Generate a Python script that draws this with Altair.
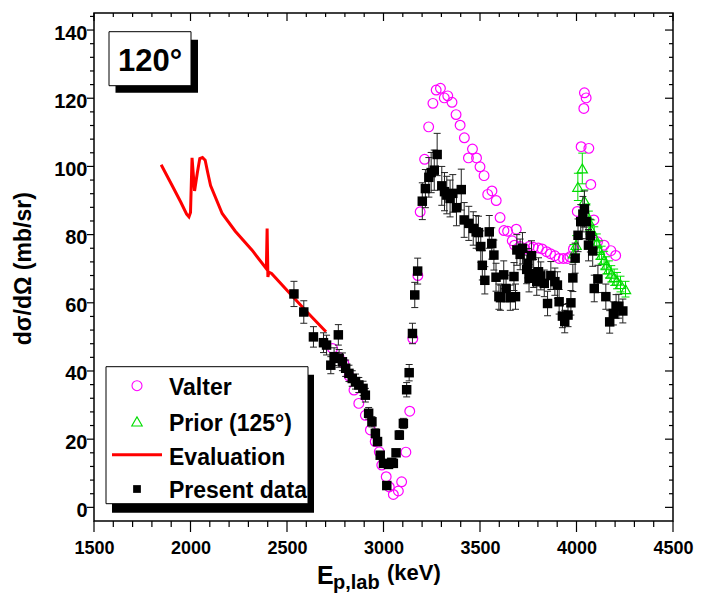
import altair as alt
import pandas as pd

# ---------------- data ----------------
eval_e = [1848, 1900, 1950, 1980, 1992, 2000, 2008, 2021, 2035, 2048, 2062, 2076, 2090,
          2104, 2164, 2232, 2318, 2393, 2397, 2401, 2406, 2420, 2514, 2600, 2702]
eval_v = [100.5, 94.9, 89.5, 86.0, 85.2, 86.5, 102.5, 92.8, 98.0, 102.3, 102.6, 101.8, 98.0,
          94.4, 86.2, 81.0, 75.5, 70.0, 81.8, 67.6, 69.0, 68.6, 62.8, 57.5, 51.5]

valter_e = [2736, 2770, 2795, 2822, 2847, 2872, 2906, 2932, 2957, 2978, 2991, 3014, 3030, 3051,
            3077, 3094, 3116, 3136, 3152, 3178, 3190, 3213, 3234, 3256, 3273, 3295, 3315, 3333,
            3355, 3376, 3397, 3419, 3440, 3461, 3482, 3500, 3521, 3540, 3562, 3584, 3604, 3624,
            3643, 3667, 3679, 3688, 3708, 3733, 3754, 3776, 3802, 3822, 3845, 3865, 3888, 3910,
            3932, 3953, 3966, 3984, 4004, 4024, 4038, 4041, 4050, 4064, 4074, 4090, 4109, 4143,
            4178, 4203]
valter_v = [46.6, 44.0, 42.2, 38.5, 34.4, 30.5, 27.0, 22.7, 19.3, 16.3, 12.4, 9.0, 6.0, 3.8,
            4.8, 7.5, 16.2, 28.2, 49.5, 68.0, 86.7, 102.1, 111.6, 118.5, 122.4, 122.9, 120.1, 120.7,
            118.8, 115.2, 112.1, 108.4, 102.5, 105.1, 102.5, 99.9, 97.3, 91.8, 92.8, 90.0, 85.0, 81.2,
            81.0, 78.2, 76.9, 81.6, 76.5, 75.8, 76.5, 76.3, 76.1, 75.8, 75.0, 74.4, 73.8, 73.0,
            73.0, 73.0, 73.5, 75.8, 86.8, 105.8, 117.0, 121.6, 120.1, 105.3, 94.7, 84.3, 77.9, 76.9,
            75.3, 73.9]

prior_e = [3985, 3998, 4007, 4030, 4041, 4052, 4064, 4076, 4092, 4105, 4118, 4130, 4143, 4155,
           4168, 4180, 4195, 4210, 4228, 4254]
prior_v = [74.5, 77.0, 94.0, 99.4, 90.0, 86.0, 84.0, 81.5, 79.5, 77.5, 75.5, 74.0, 72.5, 71.0,
           69.8, 68.5, 67.5, 66.5, 65.5, 64.0]
prior_err = [2.6, 2.7, 4.0, 4.5, 3.1, 3.0, 2.9, 2.8, 2.8, 2.7, 2.7, 2.6, 2.6, 2.5,
             2.5, 2.4, 2.4, 2.4, 2.3, 2.3]

present_e = [2536, 2587, 2637, 2689, 2705, 2727, 2744, 2766, 2770, 2787, 2804, 2821, 2838, 2855,
             2872, 2894, 2906, 2923, 2940, 2958, 2969, 2983, 3000, 3017, 3026, 3043, 3051, 3065,
             3082, 3103, 3120, 3133, 3150, 3162, 3177, 3201, 3217, 3235, 3247, 3263, 3278, 3302,
             3316, 3328, 3345, 3359, 3378, 3403, 3418, 3442, 3465, 3480, 3492, 3504, 3512, 3525,
             3548, 3561, 3572, 3583, 3598, 3606, 3623, 3635, 3657, 3676, 3684, 3691, 3708, 3720,
             3742, 3748, 3754, 3767, 3778, 3794, 3803, 3815, 3833, 3850, 3867, 3888, 3901, 3910,
             3927, 3939, 3956, 3971, 3981, 3993, 4008, 4022, 4033, 4041, 4050, 4062, 4072, 4084,
             4092, 4111, 4152, 4172, 4191, 4205, 4219, 4240]
present_v = [62.6, 57.3, 50.0, 48.3, 47.6, 41.7, 44.2, 50.6, 43.7, 42.7, 40.8, 39.3, 37.8, 36.9,
             35.9, 34.9, 32.9, 27.6, 25.1, 21.7, 19.3, 15.3, 12.9, 6.4, 12.6, 13.2, 12.9, 16.0,
             21.2, 24.6, 34.5, 39.5, 51.0, 62.3, 69.3, 89.8, 93.5, 96.8, 98.2, 98.9, 103.5, 94.3,
             92.6, 91.6, 90.6, 92.1, 87.9, 93.2, 84.3, 83.3, 81.8, 80.8, 80.6, 76.5, 71.0, 66.6,
             80.8, 77.4, 74.0, 67.5, 61.8, 61.5, 68.2, 64.2, 61.5, 67.7, 61.8, 75.5, 74.2, 76.0,
             69.8, 71.6, 67.2, 73.8, 68.6, 66.2, 69.1, 67.9, 65.7, 59.8, 68.0, 66.2, 65.2, 60.3,
             56.1, 54.5, 56.4, 60.0, 67.3, 73.1, 79.8, 83.8, 86.0, 87.5, 83.8, 76.9, 79.7, 75.2,
             64.2, 67.0, 61.8, 54.4, 56.9, 58.9, 59.0, 57.6]
present_err = [3.7, 3.3, 3.0, 2.9, 2.9, 2.5, 2.6, 3.0, 2.6, 2.6, 2.4, 2.4, 2.3, 2.2,
               2.2, 2.1, 2.0, 1.7, 1.5, 1.3, 1.2, 1.0, 0.8, 0.6, 0.8, 0.8, 0.8, 1.0,
               1.3, 1.5, 2.1, 2.4, 3.0, 3.7, 3.8, 5.4, 5.6, 5.8, 5.9, 5.9, 6.2, 5.7,
               5.6, 5.5, 5.4, 5.5, 5.3, 6.0, 5.1, 5.0, 4.9, 4.8, 4.8, 4.6, 4.3, 4.0,
               4.8, 4.6, 4.4, 4.1, 3.7, 3.7, 4.1, 3.9, 3.7, 4.1, 3.7, 4.5, 4.5, 4.6,
               4.2, 4.3, 4.0, 4.4, 4.1, 4.0, 4.1, 4.1, 3.9, 3.6, 4.1, 4.0, 3.9, 3.6,
               3.4, 3.3, 3.4, 3.6, 4.0, 4.4, 4.8, 5.0, 5.2, 5.3, 5.0, 4.6, 4.8, 4.5,
               3.9, 4.0, 3.7, 3.3, 3.4, 3.5, 3.5, 3.5]

x_major = [1500, 2000, 2500, 3000, 3500, 4000, 4500]
x_minor = [1600, 1700, 1800, 1900, 2100, 2200, 2300, 2400, 2600, 2700, 2800, 2900,
           3100, 3200, 3300, 3400, 3600, 3700, 3800, 3900, 4100, 4200, 4300, 4400]
y_major = [0, 20, 40, 60, 80, 100, 120, 140]
y_minor = [4, 8, 12, 16, 24, 28, 32, 36, 44, 48, 52, 56, 64, 68, 72, 76, 84, 88, 92, 96,
           104, 108, 112, 116, 124, 128, 132, 136, 144]

# ---------------- chart ----------------
W, H = 579, 508
FONT = "Liberation Sans"
MAG = "#FF00FF"
GRN = "#00DD00"

xs = alt.Scale(domain=[1500, 4500], nice=False, zero=False)
ys = alt.Scale(domain=[-4, 145], nice=False, zero=False)
x_axis = alt.Axis(values=x_major, ticks=False, tickSize=0, domain=False, grid=False,
                  labelFont=FONT, labelFontSize=18, labelFontWeight="bold", labelColor="black",
                  labelPadding=18, labelFlush=False, labelOverlap=False, title=None, format="d")
y_axis = alt.Axis(values=y_major, ticks=False, tickSize=0, domain=False, grid=False,
                  labelFont=FONT, labelFontSize=20, labelFontWeight="bold", labelColor="black",
                  labelPadding=7, labelOffset=3, labelFlush=False, labelOverlap=False,
                  title=None, format="d")


def X(f):
    return alt.X(f"{f}:Q", scale=xs, axis=x_axis)


def Y(f):
    return alt.Y(f"{f}:Q", scale=ys, axis=y_axis)


one = pd.DataFrame({"a": [0]})
df_eval = pd.DataFrame({"E": eval_e, "v": eval_v})
df_val = pd.DataFrame({"E": valter_e, "v": valter_v})
df_pri = pd.DataFrame({"E": prior_e, "v": prior_v, "err": prior_err})
df_pre = pd.DataFrame({"E": present_e, "v": present_v, "err": present_err})
df_xM = pd.DataFrame({"t": x_major})
df_xm = pd.DataFrame({"t": x_minor})
df_yM = pd.DataFrame({"t": y_major})
df_ym = pd.DataFrame({"t": y_minor})

layers = []

# frame
layers.append(alt.Chart(one).mark_rect(fillOpacity=0, stroke="black", strokeWidth=1.5).encode(
    x=alt.value(0), x2=alt.value(W), y=alt.value(0), y2=alt.value(H)))


# ticks
def xticks(df, y0, y1):
    return alt.Chart(df).mark_rule(color="black", strokeWidth=1.2).encode(
        x=X("t"), y=alt.value(y0), y2=alt.value(y1))


def yticks(df, x0, x1):
    return alt.Chart(df).mark_rule(color="black", strokeWidth=1.2).encode(
        y=Y("t"), x=alt.value(x0), x2=alt.value(x1))


layers += [xticks(df_xM, H, H + 11), xticks(df_xm, H, H + 6),
           xticks(df_xM, 0, 8), xticks(df_xm, 0, 4),
           yticks(df_yM, -7, 0), yticks(df_ym, -4, 0),
           yticks(df_yM, W - 8, W), yticks(df_ym, W - 4, W)]

# evaluation line
layers.append(alt.Chart(df_eval).mark_line(color="#FF0000", strokeWidth=3).encode(
    x=X("E"), y=Y("v")))

# Valter
layers.append(alt.Chart(df_val).mark_point(shape="circle", filled=False, color=MAG,
                                           size=95, strokeWidth=1.2, opacity=1).encode(
    x=X("E"), y=Y("v")))

# Prior
pri = alt.Chart(df_pri).transform_calculate(lo="datum.v - datum.err", hi="datum.v + datum.err")
layers.append(pri.mark_rule(color=GRN, strokeWidth=1).encode(x=X("E"), y=Y("lo"), y2=alt.Y2("hi:Q")))
layers.append(pri.mark_tick(orient="horizontal", size=8, thickness=1, color=GRN, opacity=1).encode(
    x=X("E"), y=Y("lo")))
layers.append(pri.mark_tick(orient="horizontal", size=8, thickness=1, color=GRN, opacity=1).encode(
    x=X("E"), y=Y("hi")))
layers.append(pri.mark_point(shape="triangle-up", filled=False, color=GRN, size=105,
                             strokeWidth=1.2, opacity=1).encode(x=X("E"), y=Y("v")))

# Present data
pre = alt.Chart(df_pre).transform_calculate(lo="datum.v - datum.err", hi="datum.v + datum.err")
layers.append(pre.mark_rule(color="#222222", strokeWidth=1).encode(x=X("E"), y=Y("lo"), y2=alt.Y2("hi:Q")))
layers.append(pre.mark_tick(orient="horizontal", size=7, thickness=1, color="#222222", opacity=1).encode(
    x=X("E"), y=Y("lo")))
layers.append(pre.mark_tick(orient="horizontal", size=7, thickness=1, color="#222222", opacity=1).encode(
    x=X("E"), y=Y("hi")))
layers.append(pre.mark_square(size=90, color="black", opacity=1).encode(x=X("E"), y=Y("v")))

# "120°" box
layers.append(alt.Chart(one).mark_rect(fill="black").encode(
    x=alt.value(21.5), x2=alt.value(104), y=alt.value(26.7), y2=alt.value(79.7)))
layers.append(alt.Chart(one).mark_rect(fill="white", stroke="black", strokeWidth=1).encode(
    x=alt.value(15), x2=alt.value(97), y=alt.value(18.7), y2=alt.value(72.7)))
layers.append(alt.Chart(one).mark_text(font=FONT, fontWeight="bold", fontSize=31, align="center",
                                       baseline="alphabetic", color="black").encode(
    x=alt.value(56), y=alt.value(58.4), text=alt.value("120°")))

# legend box
layers.append(alt.Chart(one).mark_rect(fill="black").encode(
    x=alt.value(18), x2=alt.value(220), y=alt.value(361.7), y2=alt.value(499.7)))
layers.append(alt.Chart(one).mark_rect(fill="white", stroke="black", strokeWidth=1).encode(
    x=alt.value(12), x2=alt.value(214), y=alt.value(353.7), y2=alt.value(490.7)))
layers.append(alt.Chart(one).mark_point(shape="circle", filled=False, color=MAG, size=100,
                                        strokeWidth=1.1, opacity=1).encode(
    x=alt.value(43), y=alt.value(372.7)))
layers.append(alt.Chart(one).mark_point(shape="triangle-up", filled=False, color=GRN, size=110,
                                        strokeWidth=1.1, opacity=1).encode(
    x=alt.value(43), y=alt.value(408.4)))
layers.append(alt.Chart(one).mark_rule(color="#FF0000", strokeWidth=3).encode(
    x=alt.value(18), x2=alt.value(68), y=alt.value(441.7)))
layers.append(alt.Chart(one).mark_square(size=60, color="black", opacity=1).encode(
    x=alt.value(43), y=alt.value(476)))

leg_txt = [("Valter", 381.7), ("Prior (125°)", 417.7), ("Evaluation", 451.7), ("Present data", 485)]
for t, yy in leg_txt:
    layers.append(alt.Chart(one).mark_text(font=FONT, fontWeight="bold", fontSize=23, align="left",
                                           baseline="alphabetic", color="black").encode(
        x=alt.value(75), y=alt.value(yy), text=alt.value(t)))

# axis titles
layers.append(alt.Chart(one).mark_text(font=FONT, fontWeight="bold", fontSize=23, angle=270,
                                       align="center", baseline="alphabetic", color="black").encode(
    x=alt.value(-63), y=alt.value(255.7), text=alt.value("dσ/dΩ (mb/sr)")))
layers.append(alt.Chart(one).mark_text(font=FONT, fontWeight="bold", fontSize=25, align="left",
                                       baseline="alphabetic", color="black").encode(
    x=alt.value(223), y=alt.value(571), text=alt.value("E")))
layers.append(alt.Chart(one).mark_text(font=FONT, fontWeight="bold", fontSize=20, align="left",
                                       baseline="alphabetic", color="black").encode(
    x=alt.value(239), y=alt.value(576), text=alt.value("p,lab")))
layers.append(alt.Chart(one).mark_text(font=FONT, fontWeight="bold", fontSize=22, align="left",
                                       baseline="alphabetic", color="black").encode(
    x=alt.value(293), y=alt.value(567), text=alt.value("(keV)")))

chart = alt.layer(*layers).properties(
    width=W, height=H,
    autosize=alt.AutoSizeParams(type="none"),
    padding={"left": 86, "top": 5, "right": 22, "bottom": 74},
    background="white",
).configure_view(stroke=None)

chart.save("out.html", embed_options={"renderer": "svg", "actions": False})
